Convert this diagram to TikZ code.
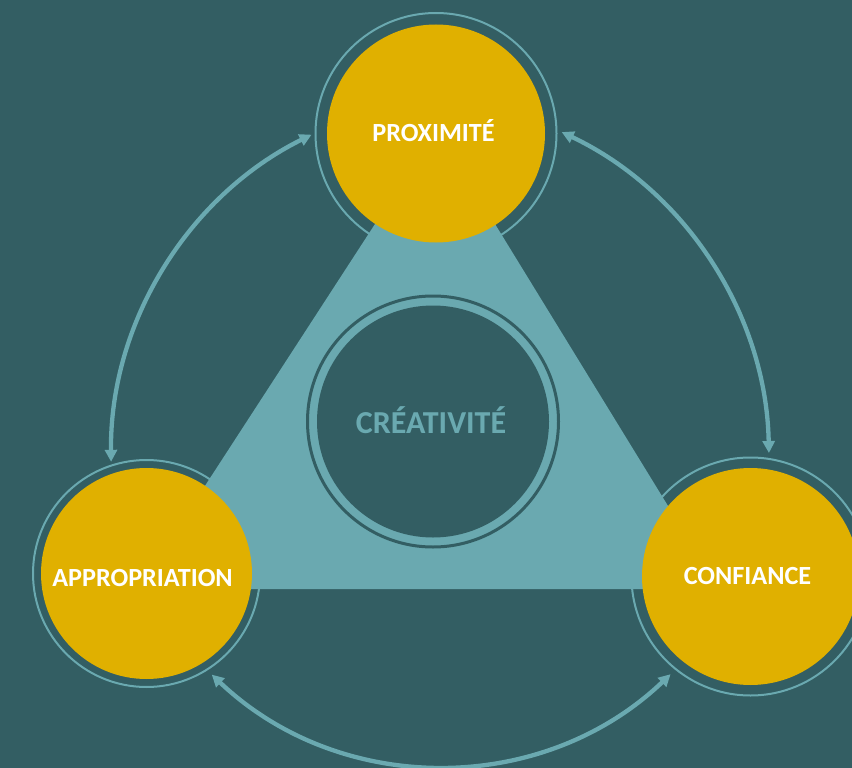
\documentclass[tikz,border=0pt]{standalone}
\usepackage{fontspec}
\setmainfont{Carlito}
\usetikzlibrary{arrows.meta}
\definecolor{bgc}{HTML}{335E63}
\definecolor{tealc}{HTML}{6AA9B0}
\definecolor{goldc}{HTML}{E0B000}
\tikzset{
  ring/.style={circle, draw=tealc, line width=2pt, inner sep=0, outer sep=0},
  goldball/.style={circle, fill=goldc, inner sep=0, outer sep=0},
  lbl/.style={font=\bfseries\fontsize{26.2}{30}\selectfont, text=white, inner sep=0, anchor=base},
  cycarrow/.style={draw=tealc, line width=4.3pt, {Triangle[length=12pt,width=12pt]}-{Triangle[length=12pt,width=12pt]}}
}
\begin{document}
\begin{tikzpicture}[x=1pt,y=-1pt]
\fill[bgc] (0,0) rectangle (852,768);
\useasboundingbox (0,0) rectangle (852,768);
% rings
\node[ring, minimum size=241pt] (ringP) at (436,133.5) {};
\node[ring, minimum size=227pt] (ringA) at (146.5,573.5) {};
\node[ring, minimum size=238pt] (ringC) at (750.5,576.5) {};
% triangle
\coordinate (tA) at (436.7,129);
\coordinate (tC) at (719,589);
\coordinate (tB) at (138,589);
\fill[tealc] (tA) -- (tC) -- (tB) -- cycle;
% center circle
\node[circle, draw=bgc, line width=3pt, minimum size=251pt, inner sep=0] (cring) at (433,421.5) {};
\node[circle, fill=bgc, minimum size=232pt, inner sep=0] (cfill) at (433,421.5) {};
\node[font=\bfseries\fontsize{32}{36}\selectfont, text=tealc, inner sep=0, anchor=base] (crea) at (431,433.3) {CRÉATIVITÉ};
% gold circles
\node[goldball, minimum size=218pt] (prox) at (436,133.5) {};
\node[goldball, minimum size=211pt] (appr) at (146.5,573.5) {};
\node[goldball, minimum size=217pt] (conf) at (750.5,576.5) {};
\node[lbl] (proxT) at (433.5,141.7) {PROXIMITÉ};
\node[lbl] (apprT) at (142.5,586) {APPROPRIATION};
\node[lbl] (confT) at (747.5,584) {CONFIANCE};
% arrows
\coordinate (aTL) at (111.1,461.8);
\coordinate (aTR) at (561.7,132.1);
\coordinate (aBR) at (670.6,674.2);
\draw[cycarrow] (aTL) arc[start angle=179.4, end angle=243.6, radius=361];
\draw[cycarrow] (aTR) arc[start angle=-64.6, end angle=-1.1, radius=363];
\draw[cycarrow] (aBR) arc[start angle=46.4, end angle=133.5, radius=333];
\end{tikzpicture}
\end{document}
